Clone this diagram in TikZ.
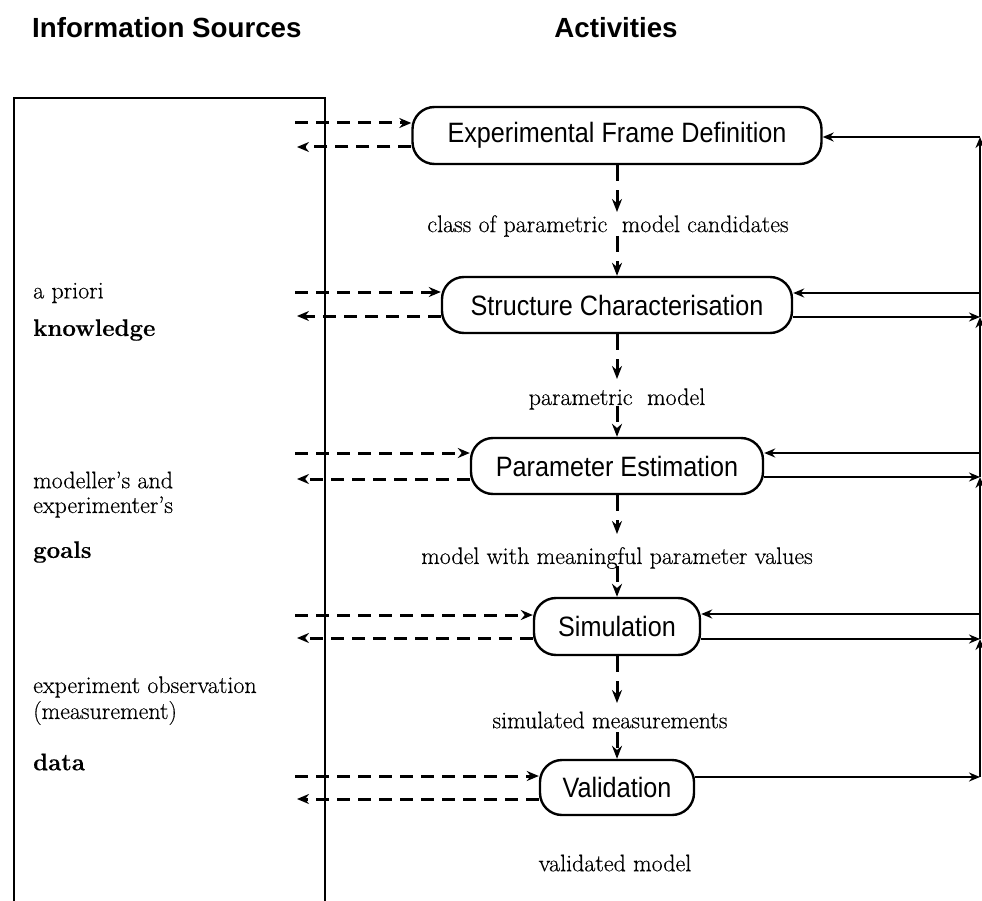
\documentclass[tikz,border=0pt]{standalone}
\usepackage{fontspec}
\usetikzlibrary{arrows.meta}
\newfontfamily\sansfont{Liberation Sans}
\newfontfamily\boxfont[FakeStretch=0.9]{Liberation Sans}
\newfontfamily\serifx[FakeBold=0.35,Ligatures=TeX]{Latin Modern Roman}
\begin{document}
\begin{tikzpicture}[x=1pt,y=-1pt,
  actbox/.style={draw, line width=2.4pt, rounded corners=22pt, inner sep=0pt,
    font=\boxfont\fontsize{28}{30}\selectfont},
  lbl/.style={font=\serifx\fontsize{24}{27}\selectfont, inner sep=0pt},
  src/.style={font=\serifx\fontsize{24}{27}\selectfont, anchor=west, inner sep=0pt},
  srcb/.style={src, font=\serifx\fontsize{24}{27}\selectfont\bfseries},
  ttl/.style={font=\sansfont\bfseries\fontsize{27.7}{30}\selectfont, inner sep=0pt},
  dasharr/.style={line width=3pt, dash pattern=on 13pt off 8pt, -{Stealth[length=12pt,width=10pt]}},
  vdash/.style={line width=3pt, dash pattern=on 16pt off 9pt, -{Stealth[length=13pt,width=10pt]}},
  solarr/.style={line width=2pt, -{Stealth[length=11pt,width=9pt]}}
]
\useasboundingbox (0,0) rectangle (982,901);

% titles
\node[ttl, anchor=west] (t1) at (32,28) {Information Sources};
\node[ttl] (t2) at (616,28) {Activities};

% information sources box (open at the bottom)
\draw[line width=2pt] (14,905) -- (14,98) -- (325,98) -- (325,905);

% source texts
\node[src] (s1) at (33,293) {a priori};
\node[srcb] (s2) at (33,330) {knowledge};
\node[src] (s3) at (33,480) {modeller’s and};
\node[src] (s4) at (33,507) {experimenter’s};
\node[srcb] (s5) at (33,552) {goals};
\node[src] (s6) at (33,687) {experiment observation};
\node[src] (s7) at (33,713) {(measurement)};
\node[srcb] (s8) at (33,762) {data};

% activity boxes
\node[actbox, minimum width=409pt, minimum height=57pt] (efd) at (617,135.5) {Experimental Frame Definition};
\node[actbox, minimum width=350pt, minimum height=56pt] (sc) at (617,305) {Structure Characterisation};
\node[actbox, minimum width=292pt, minimum height=56pt] (pe) at (617,466) {Parameter Estimation};
\node[actbox, minimum width=166pt, minimum height=57pt] (sim) at (617,626.5) {Simulation};
\node[actbox, minimum width=154pt, minimum height=55pt] (val) at (617,787.5) {Validation};

% flow labels
\node[lbl] (l1) at (608,226) {class of parametric\ \ model candidates};
\node[lbl] (l2) at (617,399) {parametric\ \ model};
\node[lbl] (l3) at (617,558) {model with meaningful parameter values};
\node[lbl] (l4) at (610,720) {simulated measurements};
\node[lbl] (l5) at (615,863) {validated model};

% vertical flow arrows
\draw[vdash] (efd.south) -- ([yshift=14pt]l1.center -| efd.south);
\draw[vdash] ([yshift=-10pt]l1.center -| efd.south) -- (sc.north);
\draw[vdash] (sc.south) -- ([yshift=20pt]l2.center -| sc.south);
\draw[vdash] ([yshift=-7pt]l2.center -| sc.south) -- (pe.north);
\draw[vdash] (pe.south) -- ([yshift=24pt]l3.center -| pe.south);
\draw[vdash] ([yshift=-8pt]l3.center -| pe.south) -- (sim.north);
\draw[vdash] (sim.south) -- ([yshift=17pt]l4.center -| sim.south);
\draw[vdash] ([yshift=-12pt]l4.center -| sim.south) -- (val.north);

% dashed exchanges with the information sources
\foreach \b/\ya/\yb in {efd/123/147, sc/292/316, pe/453/479, sim/615/638, val/776/799}{
  \coordinate (\b-da) at (295,\ya);
  \coordinate (\b-db) at (297,\yb);
  \draw[dasharr] (\b-da) -- (\b.west |- \b-da);
  \draw[dasharr] (\b.west |- \b-db) -- (\b-db);
}

% feedback line on the right
\coordinate (r0) at (980,137);
\coordinate (r1i) at (980,293);
\coordinate (r1o) at (980,317);
\coordinate (r2i) at (980,453);
\coordinate (r2o) at (980,477);
\coordinate (r3i) at (980,614);
\coordinate (r3o) at (980,639);
\coordinate (r4o) at (980,777);

\draw[solarr] (r0) -- (efd.east |- r0);
\draw[solarr] (r1i) -- (sc.east |- r1i);
\draw[solarr] (sc.east |- r1o) -- (r1o);
\draw[solarr] (r2i) -- (pe.east |- r2i);
\draw[solarr] (pe.east |- r2o) -- (r2o);
\draw[solarr] (r3i) -- (sim.east |- r3i);
\draw[solarr] (sim.east |- r3o) -- (r3o);
\draw[solarr] (val.east |- r4o) -- (r4o);

\draw[solarr] (r4o) -- (r3o);
\draw[solarr] (r3o) -- (r2o);
\draw[solarr] (r2o) -- (r1o);
\draw[solarr] (r1o) -- (r0);
\end{tikzpicture}
\end{document}
